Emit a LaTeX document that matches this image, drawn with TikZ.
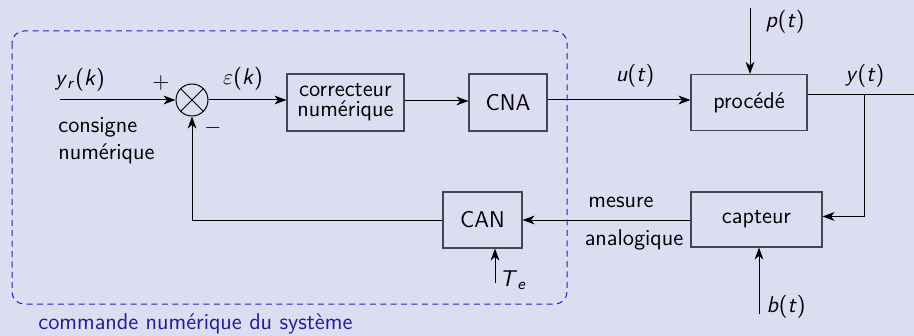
\documentclass[tikz,border=0pt]{standalone}
\usetikzlibrary{arrows.meta}
\renewcommand\familydefault{\sfdefault}
\definecolor{bgc}{RGB}{221,221,241}
\definecolor{frameblue}{RGB}{35,35,185}
\definecolor{labelblue}{RGB}{30,30,150}
\definecolor{boxline}{RGB}{70,70,80}
\newcommand\mv[1]{\textit{#1}}
\tikzset{
  blockbox/.style={draw=boxline, line width=0.55pt, rectangle, inner sep=0pt, align=center},
  sumnode/.style={draw, circle, minimum size=16pt, inner sep=0pt, line width=0.5pt},
  conn/.style={line width=0.5pt},
  arr/.style={conn, -{Stealth[length=6pt,width=4.4pt,inset=1.8pt]}},
  lbl/.style={inner sep=0pt},
  frame/.style={draw=frameblue, dash pattern=on 3pt off 2.2pt, line width=0.5pt, rounded corners=6pt}
}
\begin{document}
\begin{tikzpicture}[x=0.5pt, y=-0.5pt, every node/.style={font=\fontsize{11.4pt}{13.4pt}\selectfont}]
\fill[bgc] (0,0) rectangle (914,336);
\useasboundingbox (0,0) rectangle (914,336);
% frame
\draw[frame] (12,31) rectangle (567,304);
\node[lbl, text=labelblue, anchor=west] (cmdlbl) at (38,324) {commande numérique du système};
% nodes
\coordinate (yin) at (60,100);
\node[sumnode] (sum) at (192,100) {};
\draw[conn] (sum.north east) -- (sum.south west) (sum.north west) -- (sum.south east);
\node[blockbox, minimum width=58.5pt, minimum height=28.5pt] (cor) at (345.5,102.5) {correcteur\\[-3.2pt]numérique};
\node[blockbox, minimum width=39pt, minimum height=28.5pt] (cna) at (508,102.5) {CNA};
\node[blockbox, minimum width=58pt, minimum height=28pt] (proc) at (749,102.5) {procédé};
\node[blockbox, minimum width=65.5pt, minimum height=27.5pt] (capt) at (756.5,219.5) {capteur};
\node[blockbox, minimum width=39.5pt, minimum height=28pt] (can) at (482.5,220) {CAN};
\coordinate (pin) at (750,8);
\coordinate (bin) at (759,314);
\coordinate (tein) at (495,283);
\coordinate (branch) at (864,95);
\coordinate (yend) at (914,95);
\coordinate (fbk) at (192,220);
% connectors
\draw[arr] (yin) -- (sum.west);
\draw[arr] (sum.east) -- (cor.west |- sum.east);
\draw[arr] (cor.east |- 0,101) -- (cna.west |- 0,101);
\draw[arr] (cna.east |- 0,100) -- (proc.west |- 0,100);
\draw[arr] (pin) -- (pin |- proc.north);
\draw[conn] (proc.east |- branch) -- (yend);
\draw[arr] (branch) |- (capt.east |- 0,216.5);
\draw[arr] (capt.west |- can.east) -- (can.east);
\draw[arr] (can.west) -- (fbk) -- (sum.south);
\draw[arr] (tein) -- (tein |- can.south);
\draw[arr] (bin) -- (bin |- capt.south);
% labels
\node[lbl] (yrl) at (80,80) {\mv{y}\textsubscript{\mv{r}}(\mv{k})};
\node[lbl] (plusl) at (161,83) {$+$};
\node[lbl] (minusl) at (213,128) {$-$};
\node[lbl, align=left, anchor=west] (consl) at (58,141) {consigne\\numérique};
\node[lbl] (epsl) at (243,79) {$\varepsilon$(\mv{k})};
\node[lbl] (ul) at (635,76) {\mv{u}(\mv{t})};
\node[lbl] (pl) at (785,22) {\mv{p}(\mv{t})};
\node[lbl] (yl) at (865,76) {\mv{y}(\mv{t})};
\node[lbl] (mesl) at (621,202) {mesure};
\node[lbl] (anal) at (634,240) {analogique};
\node[lbl] (tel) at (513,280) {\mv{T}\textsubscript{\mv{e}}};
\node[lbl] (bl) at (786,307) {\mv{b}(\mv{t})};
\end{tikzpicture}
\end{document}
